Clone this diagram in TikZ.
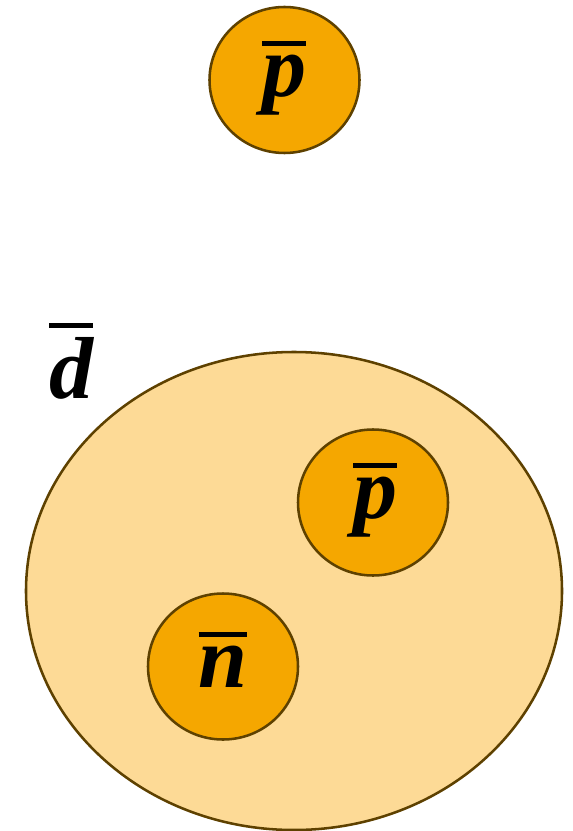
\documentclass[tikz,border=0pt]{standalone}
\usepackage{fontspec}
\setmainfont{Liberation Serif}
\usetikzlibrary{shapes.geometric}
\definecolor{edgebrown}{HTML}{5E4100}
\definecolor{orangefill}{HTML}{F5A700}
\definecolor{palefill}{HTML}{FDDA96}
\newcommand\barletter[1]{\leavevmode\vbox{\hrule height 3.8pt\kern 7pt\hbox{#1}}}
\tikzset{
  particle/.style={ellipse, draw=edgebrown, line width=1.9pt, fill=orangefill, minimum width=150*0.75pt, minimum height=146*0.75pt, inner sep=0pt},
  nucleus/.style={ellipse, draw=edgebrown, line width=1.9pt, fill=palefill, minimum width=536*0.75pt, minimum height=478*0.75pt, inner sep=0pt},
  sym/.style={inner sep=0pt, font=\fontsize{66}{70}\selectfont\bfseries\itshape}
}
\begin{document}
\begin{tikzpicture}[x=0.75pt,y=-0.75pt]
\useasboundingbox (0,0) rectangle (572,831);
\node[particle] (ptop) at (284.5,80) {};
\node[sym] (ptoplabel) at (284,78) {\barletter{p}};
\node[nucleus] (dbar) at (294,591) {};
\node[sym] (dlabel) at (71,361) {\barletter{d}};
\node[particle] (pin) at (373,502.5) {};
\node[sym] (pinlabel) at (375,500) {\barletter{p}};
\node[particle] (nin) at (223,666.5) {};
\node[sym] (ninlabel) at (223,660) {\barletter{n}};
\end{tikzpicture}
\end{document}
